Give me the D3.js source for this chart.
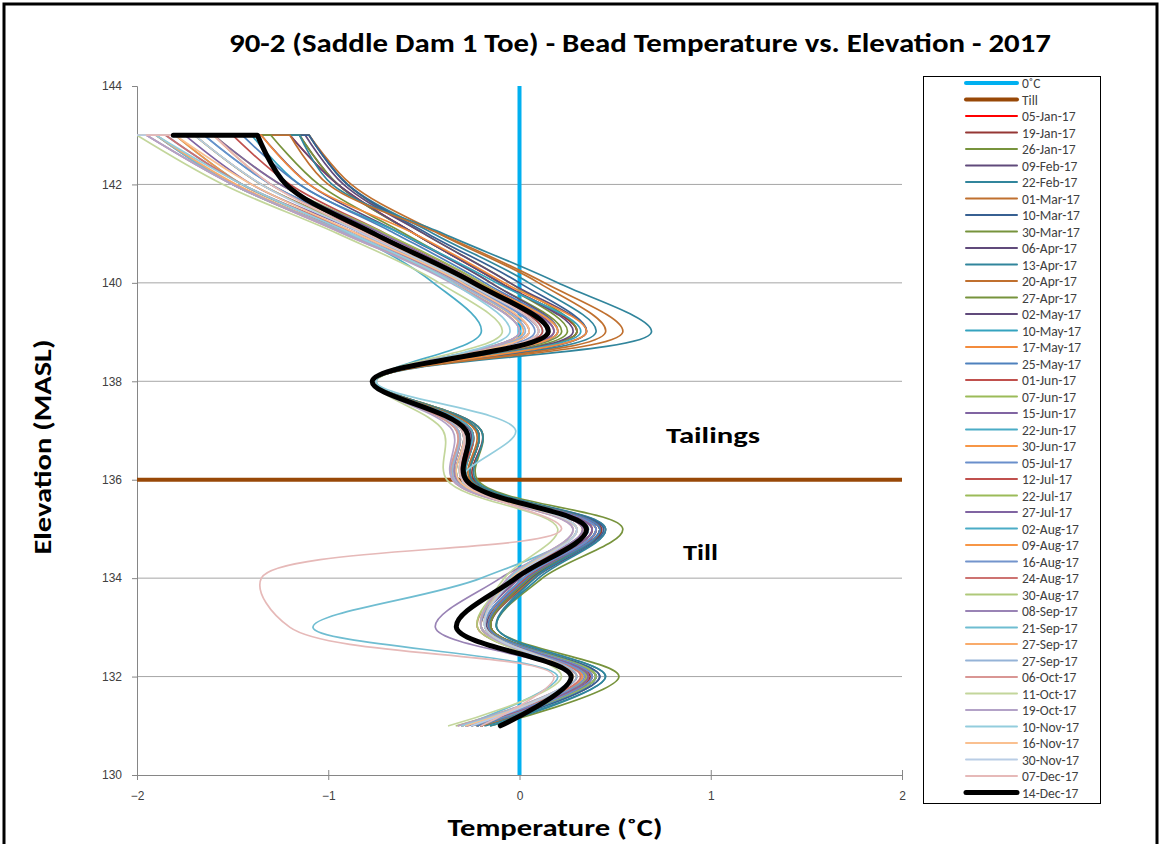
<!DOCTYPE html>
<html>
<head>
<meta charset="utf-8">
<script src="https://cdn.jsdelivr.net/npm/d3@7"></script>
<style>
  body { margin: 0; background: #fff; }
  svg { font-family: Calibri, Carlito, Lato, "Liberation Sans", sans-serif; }
</style>
</head>
<body>
<div id="page"></div>
<script>
// bead elevations (MASL); the first two readings are both at the top of the string
const elevations = [143, 143, 142, 141, 140, 139, 138, 137, 136, 135, 134, 133, 132, 131];

// temperatures (°C) per reading date, same order as elevations
const jan05 = [-2.0, -1.2, -0.95, -0.55, -0.1, 0.3, -0.77, -0.22, -0.25, 0.42, 0.05, -0.15, 0.35, -0.2];
const jan19 = [-2.0, -1.15, -0.95, -0.55, -0.1, 0.3, -0.76, -0.2, -0.24, 0.43, 0.06, -0.15, 0.37, -0.2];
const jan26 = [-2.0, -1.1, -0.9, -0.5, -0.05, 0.3, -0.75, -0.2, -0.22, 0.54, 0.12, -0.12, 0.52, -0.15];
const feb09 = [-2.0, -1.12, -0.92, -0.5, -0.05, 0.35, -0.76, -0.22, -0.25, 0.45, 0.08, -0.15, 0.42, -0.2];
const feb22 = [-2.0, -1.1, -0.9, -0.45, 0.05, 0.4, -0.76, -0.2, -0.23, 0.45, 0.1, -0.12, 0.45, -0.15];
const mar01 = [-2.0, -1.1, -0.88, -0.42, 0.1, 0.45, -0.76, -0.22, -0.25, 0.42, 0.07, -0.15, 0.4, -0.2];
const mar10 = [-2.0, -1.1, -0.9, -0.48, 0.0, 0.35, -0.76, -0.22, -0.25, 0.44, 0.06, -0.15, 0.42, -0.2];
const mar30 = [-1.95, -1.15, -0.95, -0.55, -0.1, 0.25, -0.76, -0.22, -0.25, 0.42, 0.05, -0.15, 0.4, -0.22];
const apr06 = [-1.9, -1.2, -0.95, -0.55, -0.1, 0.28, -0.76, -0.25, -0.27, 0.4, 0.04, -0.17, 0.38, -0.22];
const apr13 = [-1.9, -1.15, -0.98, -0.4, 0.2, 0.69, -0.76, -0.22, -0.25, 0.42, 0.08, -0.12, 0.45, -0.18];
const apr20 = [-1.9, -1.2, -1.0, -0.42, 0.13, 0.54, -0.76, -0.23, -0.26, 0.4, 0.05, -0.15, 0.38, -0.2];
const apr27 = [-1.95, -1.3, -1.05, -0.6, -0.15, 0.22, -0.76, -0.25, -0.27, 0.42, 0.05, -0.15, 0.4, -0.22];
const may02 = [-1.95, -1.35, -1.1, -0.62, -0.15, 0.2, -0.76, -0.26, -0.28, 0.42, 0.04, -0.16, 0.4, -0.22];
const may10 = [-2.0, -1.4, -1.15, -0.62, -0.12, 0.32, -0.76, -0.25, -0.27, 0.4, 0.03, -0.16, 0.4, -0.22];
const may17 = [-2.0, -1.35, -1.1, -0.55, -0.08, 0.35, -0.76, -0.25, -0.28, 0.4, 0.03, -0.16, 0.38, -0.22];
const may25 = [-2.0, -1.45, -1.15, -0.65, -0.18, 0.2, -0.76, -0.25, -0.28, 0.42, 0.04, -0.16, 0.4, -0.22];
const jun01 = [-2.0, -1.5, -1.2, -0.7, -0.2, 0.18, -0.76, -0.25, -0.28, 0.4, 0.03, -0.18, 0.38, -0.25];
const jun07 = [-2.05, -1.6, -1.25, -0.7, -0.2, 0.15, -0.76, -0.3, -0.3, 0.38, 0.02, -0.18, 0.4, -0.25];
const jun15 = [-2.05, -1.6, -1.25, -0.72, -0.22, 0.18, -0.77, -0.28, -0.3, 0.4, 0.02, -0.18, 0.38, -0.25];
const jun22 = [-2.1, -1.65, -1.3, -0.75, -0.25, 0.12, -0.76, -0.25, -0.3, 0.38, 0.02, -0.18, 0.36, -0.25];
const jun30 = [-2.1, -1.6, -1.3, -0.75, -0.22, 0.2, -0.77, -0.27, -0.3, 0.38, 0.0, -0.2, 0.36, -0.25];
const jul05 = [-2.1, -1.65, -1.3, -0.75, -0.25, 0.15, -0.77, -0.27, -0.3, 0.4, 0.02, -0.18, 0.38, -0.25];
const jul12 = [-2.1, -1.7, -1.35, -0.78, -0.25, 0.12, -0.77, -0.28, -0.3, 0.38, 0.0, -0.2, 0.36, -0.27];
const jul22 = [-2.1, -1.7, -1.35, -0.8, -0.28, 0.1, -0.77, -0.3, -0.32, 0.35, -0.02, -0.2, 0.35, -0.3];
const jul27 = [-2.15, -1.75, -1.4, -0.82, -0.3, 0.1, -0.77, -0.3, -0.32, 0.38, 0.0, -0.2, 0.36, -0.28];
const aug02 = [-2.2, -1.8, -1.45, -0.88, -0.45, -0.2, -0.75, -0.3, -0.32, 0.36, -0.02, -0.2, 0.33, -0.28];
const aug09 = [-2.2, -1.8, -1.45, -0.85, -0.3, 0.05, -0.77, -0.32, -0.33, 0.33, -0.03, -0.22, 0.33, -0.3];
const aug16 = [-2.2, -1.85, -1.45, -0.85, -0.3, 0.08, -0.77, -0.3, -0.32, 0.36, -0.02, -0.2, 0.34, -0.28];
const aug24 = [-2.2, -1.85, -1.45, -0.85, -0.32, 0.05, -0.77, -0.32, -0.33, 0.33, -0.03, -0.22, 0.32, -0.3];
const aug30 = [-2.25, -1.9, -1.5, -0.9, -0.35, 0.0, -0.77, -0.33, -0.34, 0.3, -0.05, -0.22, 0.3, -0.33];
const sep08 = [-2.25, -1.9, -1.5, -0.88, -0.32, 0.05, -0.77, -0.32, -0.33, 0.33, -0.1, -0.44, 0.3, -0.3];
const sep21 = [-2.25, -1.9, -1.5, -0.9, -0.35, 0.0, -0.77, -0.32, -0.34, 0.3, -0.2, -1.08, 0.2, -0.3];
const sep27a = [-2.25, -1.9, -1.48, -0.9, -0.33, 0.02, -0.77, -0.32, -0.34, 0.3, -0.05, -0.2, 0.3, -0.3];
const sep27b = [-2.3, -1.95, -1.5, -0.9, -0.33, 0.03, -0.77, -0.32, -0.34, 0.3, -0.04, -0.18, 0.3, -0.3];
const oct06 = [-2.3, -1.95, -1.5, -0.92, -0.35, 0.0, -0.77, -0.33, -0.35, 0.28, -0.06, -0.2, 0.28, -0.32];
const oct11 = [-2.3, -2.0, -1.55, -0.95, -0.42, -0.09, -0.76, -0.4, -0.38, 0.2, -0.08, -0.2, 0.22, -0.37];
const oct19 = [-2.3, -1.95, -1.5, -0.92, -0.36, 0.0, -0.77, -0.35, -0.35, 0.28, -0.06, -0.2, 0.28, -0.32];
const nov10 = [-2.2, -1.9, -1.45, -0.88, -0.35, -0.05, -0.75, -0.02, -0.3, 0.3, -0.05, -0.18, 0.28, -0.3];
const nov16 = [-2.1, -1.8, -1.4, -0.85, -0.3, 0.05, -0.76, -0.3, -0.32, 0.3, -0.04, -0.18, 0.28, -0.28];
const nov30 = [-2.0, -1.7, -1.35, -0.82, -0.28, 0.1, -0.76, -0.3, -0.3, 0.3, -0.03, -0.18, 0.27, -0.25];
const dec07 = [-1.95, -1.6, -1.3, -0.8, -0.26, 0.1, -0.77, -0.3, -0.3, 0.22, -1.35, -1.2, 0.18, -0.2];
const dec14 = [-1.81, -1.37, -1.22, -0.76, -0.24, 0.15, -0.77, -0.28, -0.28, 0.35, -0.02, -0.33, 0.27, -0.1];

const dates = ['05-Jan-17', '19-Jan-17', '26-Jan-17', '09-Feb-17', '22-Feb-17', '01-Mar-17', '10-Mar-17',
  '30-Mar-17', '06-Apr-17', '13-Apr-17', '20-Apr-17', '27-Apr-17', '02-May-17', '10-May-17', '17-May-17',
  '25-May-17', '01-Jun-17', '07-Jun-17', '15-Jun-17', '22-Jun-17', '30-Jun-17', '05-Jul-17', '12-Jul-17',
  '22-Jul-17', '27-Jul-17', '02-Aug-17', '09-Aug-17', '16-Aug-17', '24-Aug-17', '30-Aug-17', '08-Sep-17',
  '21-Sep-17', '27-Sep-17', '27-Sep-17', '06-Oct-17', '11-Oct-17', '19-Oct-17', '10-Nov-17', '16-Nov-17',
  '30-Nov-17', '07-Dec-17', '14-Dec-17'];

const readings = [jan05, jan19, jan26, feb09, feb22, mar01, mar10, mar30, apr06, apr13, apr20, apr27,
  may02, may10, may17, may25, jun01, jun07, jun15, jun22, jun30, jul05, jul12, jul22, jul27, aug02,
  aug09, aug16, aug24, aug30, sep08, sep21, sep27a, sep27b, oct06, oct11, oct19, nov10, nov16, nov30,
  dec07, dec14];

const freezeTemp = 0;        // 0°C reference line
const tillElevation = 136;   // tailings / till contact
const xTicks = [-2, -1, 0, 1, 2];
const yTicks = [130, 132, 134, 136, 138, 140, 142, 144];

// Excel-ish series palette
const colors = ['#ff0000', '#953735', '#77933c', '#604a7b', '#31859c', '#c0702f', '#376092',
  '#77933c', '#604a7b', '#31859c', '#c0702f', '#77933c', '#604a7b', '#35a3bf', '#f38b3c',
  '#4f81bd', '#c0504d', '#9bbb59', '#8064a2', '#4bacc6', '#f79646', '#6a8fcb', '#c0504d',
  '#9bbb59', '#8064a2', '#4bacc6', '#f79646', '#7394cc', '#cd7371', '#afc97a', '#9983b5',
  '#6fbdd1', '#f9ab6b', '#95b3d7', '#d99694', '#c3d69b', '#b3a2c7', '#93cddd', '#fac090',
  '#b9cde5', '#e6b9b8', '#000000'];

const width = 1161;
const height = 844;

const svg = d3.select('#page')
              .append('svg')
              .attr('width', width)
              .attr('height', height);

// outer frame
svg.append('rect')
   .attr('x', 4).attr('y', 4)
   .attr('width', 1153).attr('height', 850)
   .attr('fill', 'none')
   .attr('stroke', '#000')
   .attr('stroke-width', 3);

const x = d3.scaleLinear().domain([-2, 2]).range([137, 902]);
const y = d3.scaleLinear().domain([130, 144]).range([775, 86]);

svg.append('defs').append('clipPath')
   .attr('id', 'plot')
   .append('rect')
   .attr('x', x(-2)).attr('y', y(144))
   .attr('width', x(2) - x(-2)).attr('height', y(130) - y(144));

// gridlines
svg.append('g')
   .selectAll('line')
   .data(yTicks.filter(d => d > 130 && d < 144))
   .enter()
   .append('line')
   .attr('x1', x(-2)).attr('x2', x(2))
   .attr('y1', d => y(d)).attr('y2', d => y(d))
   .attr('stroke', '#a6a6a6')
   .attr('stroke-width', 1);

// y axis
const yAxis = svg.append('g')
                 .attr('transform', `translate(${x(-2)},0)`)
                 .call(d3.axisLeft(y).tickValues(yTicks).tickSize(5).tickPadding(10));
yAxis.select('.domain').attr('stroke', '#868686');
yAxis.selectAll('.tick line').attr('stroke', '#868686');
yAxis.selectAll('.tick text')
     .attr('font-size', '12px')
     .attr('fill', '#404040')
     .style('font-family', 'inherit');

// x axis with crossing tick marks
const xAxis = svg.append('g')
                 .attr('transform', `translate(0,${y(130)})`)
                 .call(d3.axisBottom(x).tickValues(xTicks).tickFormat(d3.format('d')).tickSize(5).tickPadding(11));
xAxis.select('.domain').attr('stroke', '#868686');
xAxis.selectAll('.tick line').attr('y1', -5).attr('stroke', '#868686');
xAxis.selectAll('.tick text')
     .attr('font-size', '12px')
     .attr('fill', '#404040')
     .style('font-family', 'inherit');

// 0°C line and till contact
svg.append('line')
   .attr('x1', x(freezeTemp)).attr('x2', x(freezeTemp))
   .attr('y1', y(144)).attr('y2', y(130))
   .attr('stroke', '#00b0f0')
   .attr('stroke-width', 4);

svg.append('line')
   .attr('x1', x(-2)).attr('x2', x(2))
   .attr('y1', y(tillElevation)).attr('y2', y(tillElevation))
   .attr('stroke', '#984807')
   .attr('stroke-width', 4);

const line = d3.line()
               .x(d => x(d[0]))
               .y(d => y(d[1]))
               .curve(d3.curveCatmullRom.alpha(0.5));

// first reading is joined straight to the second (both at the top), the rest is smoothed
function profilePath(temps) {
    const pts = temps.map((t, i) => [t, elevations[i]]);
    const smooth = line(pts.slice(1));
    return `M${x(pts[0][0])},${y(pts[0][1])}L` + smooth.slice(1);
}

svg.append('g')
   .attr('clip-path', 'url(#plot)')
   .selectAll('path')
   .data(readings)
   .enter()
   .append('path')
   .attr('d', profilePath)
   .attr('fill', 'none')
   .attr('stroke', (d, i) => colors[i])
   .attr('stroke-width', (d, i) => i === readings.length - 1 ? 5 : 1.7)
   .attr('stroke-linejoin', 'round')
   .attr('stroke-linecap', 'round');

// labels
svg.append('text')
   .attr('x', 640).attr('y', 52)
   .attr('text-anchor', 'middle')
   .attr('font-size', '26px')
   .attr('font-weight', 'bold')
   .attr('textLength', 822)
   .attr('lengthAdjust', 'spacingAndGlyphs')
   .text('90-2 (Saddle Dam 1 Toe) - Bead Temperature vs. Elevation - 2017');

svg.append('text')
   .attr('x', 555).attr('y', 836)
   .attr('text-anchor', 'middle')
   .attr('font-size', '25px')
   .attr('font-weight', 'bold')
   .attr('textLength', 215)
   .attr('lengthAdjust', 'spacingAndGlyphs')
   .text('Temperature (˚C)');

svg.append('text')
   .attr('transform', 'translate(51,447) rotate(-90)')
   .attr('text-anchor', 'middle')
   .attr('font-size', '25px')
   .attr('font-weight', 'bold')
   .attr('textLength', 215)
   .attr('lengthAdjust', 'spacingAndGlyphs')
   .text('Elevation (MASL)');

svg.append('text')
   .attr('x', 666).attr('y', 443)
   .attr('font-size', '23px')
   .attr('font-weight', 'bold')
   .attr('textLength', 94)
   .attr('lengthAdjust', 'spacingAndGlyphs')
   .text('Tailings');

svg.append('text')
   .attr('x', 683).attr('y', 560)
   .attr('font-size', '23px')
   .attr('font-weight', 'bold')
   .attr('textLength', 35)
   .attr('lengthAdjust', 'spacingAndGlyphs')
   .text('Till');

// legend
const legendItems = [{ name: '0˚C', color: '#00b0f0', w: 4 }, { name: 'Till', color: '#984807', w: 4 }]
  .concat(dates.map((d, i) => ({ name: d, color: colors[i], w: i === dates.length - 1 ? 5 : 2 })));

svg.append('rect')
   .attr('x', 923.5).attr('y', 76.5)
   .attr('width', 177).attr('height', 727)
   .attr('fill', '#fff')
   .attr('stroke', '#000')
   .attr('stroke-width', 1);

const rowStep = 16.5;
const lg = svg.selectAll('g.legend-item')
              .data(legendItems)
              .enter()
              .append('g')
              .attr('class', 'legend-item')
              .attr('transform', (d, i) => `translate(0,${83 + i * rowStep})`);

lg.append('line')
  .attr('x1', 966).attr('x2', 1017)
  .attr('stroke', d => d.color)
  .attr('stroke-width', d => d.w)
  .attr('stroke-linecap', 'round');

lg.append('text')
  .attr('x', 1022)
  .attr('y', 5)
  .attr('font-size', '13.5px')
  .attr('fill', '#404040')
  .text(d => d.name);
</script>
</body>
</html>
